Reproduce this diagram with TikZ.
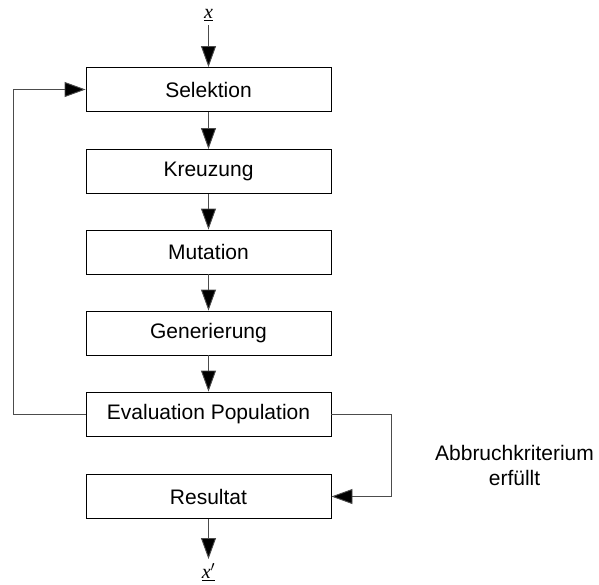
\documentclass[tikz,border=0pt]{standalone}
\usepackage{fontspec}
\setmainfont{Liberation Sans}
\newfontfamily\vecfont{Liberation Serif}
\usetikzlibrary{arrows.meta}
\begin{document}
\begin{tikzpicture}[x=1pt,y=-1pt,
  stepbox/.style={draw=black,line width=0.9pt,minimum width=245pt,minimum height=44pt,
    inner sep=0pt,font=\fontsize{21}{25}\selectfont},
  flow/.style={draw=black!70,line width=0.9pt,-{Triangle[length=21pt,width=15pt,fill=black]}},
  link/.style={draw=black!70,line width=0.9pt},
  varlabel/.style={inner sep=0pt,font=\vecfont\itshape\fontsize{20}{22}\selectfont}]
\useasboundingbox (0,0) rectangle (599,584);
% process steps
\node[stepbox] (sel) at (208.5,89.5) {Selektion};
\node[stepbox] (kre) at (208.5,171.5) {Kreuzung};
\node[stepbox] (mut) at (208.5,252) {Mutation};
\node[stepbox] (gen) at (208.5,333) {Generierung};
\node[stepbox] (eva) at (208.5,414) {Evaluation Population};
\node[stepbox] (res) at (208.5,496.5) {Resultat};
% input and output
\node[varlabel] (xin) at (208.5,15) {\underline{x}};
\node[varlabel] (xout) at (208.5,572) {\underline{x$'$}};
\coordinate (inTop) at (208.5,25);
\coordinate (outEnd) at (208.5,559);
\node[font=\fontsize{21}{25}\selectfont,align=center] (abb) at (514.5,465.5)
  {Abbruchkriterium\\erfüllt};
% main flow
\draw[flow] (inTop) -- (sel.north);
\draw[flow] (sel) -- (kre);
\draw[flow] (kre) -- (mut);
\draw[flow] (mut) -- (gen);
\draw[flow] (gen) -- (eva);
\draw[flow] (res) -- (outEnd);
% loop back to selection
\coordinate (loopL) at (13,414);
\draw[link] (eva.west) -- (loopL);
\draw[flow] (loopL) |- (sel.west);
% termination branch
\coordinate (loopR) at (391,414);
\draw[link] (eva.east) -- (loopR);
\draw[flow] (loopR) |- (res.east);
\end{tikzpicture}
\end{document}
